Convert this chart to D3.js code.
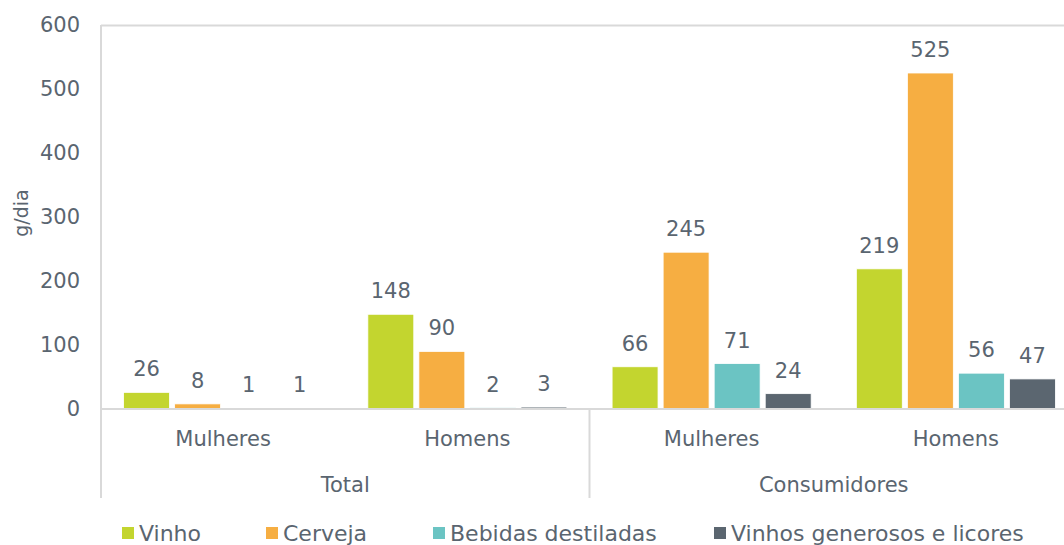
<!DOCTYPE html>
<html>
<head>
<meta charset="utf-8">
<script src="https://cdn.jsdelivr.net/npm/d3@7"></script>
<style>
  body { margin: 0; background: #fff; }
  text { font-family: "DejaVu Sans", sans-serif; fill: #5a6570; }
</style>
</head>
<body>
<script>
// chart data
var groups = ["Total", "Total", "Consumidores", "Consumidores"];
var categories = ["Mulheres", "Homens", "Mulheres", "Homens"];
var seriesNames = ["Vinho", "Cerveja", "Bebidas destiladas", "Vinhos generosos e licores"];
var seriesColors = ["#c3d52f", "#f6ae42", "#6bc4c3", "#5b6670"];
var vinho = [26, 148, 66, 219];
var cerveja = [8, 90, 245, 525];
var destiladas = [1, 2, 71, 56];
var generosos = [1, 3, 24, 47];
var yTicks = [0, 100, 200, 300, 400, 500, 600];

var series = [vinho, cerveja, destiladas, generosos];

window.onload = function(){
    var width = 1064, height = 545;
    var left = 101, right = 1078, top = 25, bottom = 409;

    var svg = d3.select("body").append("svg")
        .attr("width", width)
        .attr("height", height);

    var keys = categories.map(function(c, i){ return i; });

    // outer band = one per category, inner band = one per series
    var x0 = d3.scaleBand()
        .domain(keys)
        .range([left, right])
        .paddingInner(0.185)
        .paddingOuter(0.0925);

    var x1 = d3.scaleBand()
        .domain(d3.range(series.length))
        .range([0, x0.bandwidth()])
        .paddingInner(0.1);

    var y = d3.scaleLinear()
        .domain([0, 600])
        .range([bottom, top]);

    var grid = "#d9d9d9";

    // plot border lines
    svg.append("line")
        .attr("x1", left).attr("x2", width)
        .attr("y1", top + 0.5).attr("y2", top + 0.5)
        .style("stroke", grid).style("stroke-width", 2);
    svg.append("line")
        .attr("x1", left).attr("x2", left)
        .attr("y1", top).attr("y2", 498)
        .style("stroke", grid).style("stroke-width", 2);
    // separator between groups
    var sepX = left + (right - left) / 2;
    svg.append("line")
        .attr("x1", sepX).attr("x2", sepX)
        .attr("y1", bottom).attr("y2", 498)
        .style("stroke", grid).style("stroke-width", 2);

    // y axis labels
    var yAxis = d3.axisLeft(y).tickValues(yTicks).tickSize(0).tickPadding(21);
    var ga = svg.append("g")
        .attr("transform", "translate(" + left + ",0)")
        .call(yAxis);
    ga.select(".domain").remove();
    ga.selectAll("text")
        .style("font-size", "21px")
        .style("font-family", "DejaVu Sans, sans-serif")
        .attr("fill", "#5a6570");

    svg.append("text")
        .attr("transform", "translate(28,213) rotate(-90)")
        .attr("text-anchor", "middle")
        .style("font-size", "19px")
        .text("g/dia");

    // bars
    series.forEach(function(vals, s){
        svg.selectAll(".bar" + s)
            .data(vals)
            .enter()
            .append("rect")
            .attr("class", "bar" + s)
            .attr("x", function(d, i){ return x0(i) + x1(s); })
            .attr("width", x1.bandwidth())
            .attr("y", function(d){ return y(d); })
            .attr("height", function(d){ return bottom - y(d); })
            .style("fill", seriesColors[s])
            .style("stroke", "#fff")
            .style("stroke-width", 0.8);

        svg.selectAll(".lab" + s)
            .data(vals)
            .enter()
            .append("text")
            .attr("class", "lab" + s)
            .attr("text-anchor", "middle")
            .attr("x", function(d, i){ return x0(i) + x1(s) + x1.bandwidth() / 2; })
            .attr("y", function(d){ return y(d) - 16; })
            .style("font-size", "21px")
            .text(function(d){ return d; });
    });

    // baseline
    svg.append("line")
        .attr("x1", left).attr("x2", width)
        .attr("y1", bottom).attr("y2", bottom)
        .style("stroke", grid).style("stroke-width", 2);

    // category labels
    svg.selectAll(".cat")
        .data(categories)
        .enter()
        .append("text")
        .attr("class", "cat")
        .attr("text-anchor", "middle")
        .attr("x", function(d, i){ return x0(i) + x0.bandwidth() / 2; })
        .attr("y", 446)
        .style("font-size", "21px")
        .text(function(d){ return d; });

    var groupNames = groups.filter(function(g, i){ return groups.indexOf(g) === i; });
    svg.selectAll(".grp")
        .data(groupNames)
        .enter()
        .append("text")
        .attr("class", "grp")
        .attr("text-anchor", "middle")
        .attr("x", function(g){
            var idx = keys.filter(function(k){ return groups[k] === g; });
            return (x0(idx[0]) + x0(idx[idx.length - 1]) + x0.bandwidth()) / 2;
        })
        .attr("y", 492)
        .style("font-size", "21px")
        .text(function(d){ return d; });

    // legend
    var legendX = [122, 266, 433, 714];
    var legend = svg.selectAll(".legend")
        .data(seriesNames)
        .enter()
        .append("g")
        .attr("class", "legend")
        .attr("transform", function(d, i){ return "translate(" + legendX[i] + ",0)"; });
    legend.append("rect")
        .attr("x", 0).attr("y", 527)
        .attr("width", 12).attr("height", 12)
        .style("fill", function(d, i){ return seriesColors[i]; });
    legend.append("text")
        .attr("x", 17).attr("y", 541)
        .style("font-size", "22px")
        .text(function(d){ return d; });
};
</script>
</body>
</html>
